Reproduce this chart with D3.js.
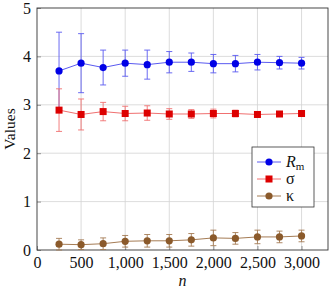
<!DOCTYPE html>
<html>
<head>
<meta charset="utf-8">
<script src="https://cdn.jsdelivr.net/npm/d3@7"></script>
<style>
  body { margin: 0; background: #fff; }
  svg text { font-family: "Liberation Serif", "Times New Roman", serif; fill: #111; }
</style>
</head>
<body>
<svg id="chart" width="330" height="292"></svg>
<script>
// Data
const nValues = [250, 500, 750, 1000, 1250, 1500, 1750, 2000, 2250, 2500, 2750, 3000];
const rmMean  = [3.70, 3.86, 3.77, 3.86, 3.83, 3.88, 3.88, 3.85, 3.85, 3.88, 3.87, 3.86];
const rmErr   = [0.80, 0.61, 0.36, 0.27, 0.30, 0.22, 0.19, 0.19, 0.17, 0.16, 0.13, 0.12];
const sigMean = [2.89, 2.80, 2.86, 2.82, 2.83, 2.81, 2.81, 2.82, 2.82, 2.80, 2.81, 2.82];
const sigErr  = [0.44, 0.32, 0.19, 0.15, 0.15, 0.11, 0.09, 0.09, 0.07, 0.05, 0.04, 0.04];
const kapMean = [0.12, 0.11, 0.13, 0.18, 0.19, 0.19, 0.21, 0.25, 0.24, 0.27, 0.27, 0.29];
const kapErr  = [0.12, 0.10, 0.12, 0.12, 0.13, 0.13, 0.13, 0.16, 0.12, 0.14, 0.12, 0.12];
const xTicks  = [0, 500, 1000, 1500, 2000, 2500, 3000];
const yTicks  = [0, 1, 2, 3, 4, 5];

const series = [
  {name: 'R', sub: 'm', mean: rmMean, err: rmErr, mark: '#0000e6', line: '#5a5af0', shape: 'circle'},
  {name: 'σ', sub: '', mean: sigMean, err: sigErr, mark: '#dd0000', line: '#f07070', shape: 'square'},
  {name: 'κ', sub: '', mean: kapMean, err: kapErr, mark: '#8b5a2b', line: '#a57c55', shape: 'circle'}
];

const svg = d3.select('#chart');
const margin = {left: 37, right: 2, top: 8, bottom: 42};
const W = 330, H = 292;
const serif = '"Liberation Serif", "Times New Roman", serif';

const x = d3.scaleLinear().domain([0, 3300]).range([margin.left, W - margin.right]);
const y = d3.scaleLinear().domain([0, 5]).range([H - margin.bottom, margin.top]);

// grid
const grid = svg.append('g').attr('stroke', '#d3d3d3').attr('stroke-width', 0.8);
grid.selectAll('.gx').data(xTicks.slice(1)).enter().append('line')
    .attr('x1', d => x(d)).attr('x2', d => x(d))
    .attr('y1', y(0)).attr('y2', y(5));
grid.selectAll('.gy').data(yTicks.slice(1, -1)).enter().append('line')
    .attr('x1', x(0)).attr('x2', x(3300))
    .attr('y1', d => y(d)).attr('y2', d => y(d));

// axes
const xAxis = svg.append('g').attr('transform', `translate(0, ${y(0)})`)
    .call(d3.axisBottom(x).tickValues(xTicks).tickFormat(d3.format(','))
        .tickSizeInner(-4).tickSizeOuter(0).tickPadding(7));
const yAxis = svg.append('g').attr('transform', `translate(${x(0)}, 0)`)
    .call(d3.axisLeft(y).tickValues(yTicks).tickFormat(d3.format('d'))
        .tickSizeInner(-4).tickSizeOuter(0).tickPadding(6));
for (let ax of [xAxis, yAxis]) {
    ax.attr('font-family', serif).attr('font-size', 16);
    ax.select('.domain').remove();
    ax.selectAll('.tick line').attr('stroke', '#555').attr('stroke-width', 0.6);
    ax.selectAll('.tick text').attr('fill', '#111')
        .style('font-family', serif).style('font-size', '16px');
}

// frame
svg.append('rect')
    .attr('x', x(0)).attr('y', y(5))
    .attr('width', x(3300) - x(0)).attr('height', y(0) - y(5))
    .attr('fill', 'none').attr('stroke', '#333').attr('stroke-width', 0.9);

// labels
svg.append('text')
    .attr('transform', `translate(15, ${(y(0) + y(5)) / 2}) rotate(-90)`)
    .attr('text-anchor', 'middle').style('font-size', '15.5px').text('Values');
svg.append('text')
    .attr('x', (x(0) + x(3300)) / 2).attr('y', 286)
    .attr('text-anchor', 'middle').style('font-size', '16px').style('font-style', 'italic').text('n');

function drawMark(g, shape, color, cx, cy) {
    if (shape === 'circle') {
        g.append('circle').attr('cx', cx).attr('cy', cy).attr('r', 3.6).attr('fill', color);
    } else {
        g.append('rect').attr('x', cx - 3.5).attr('y', cy - 3.5)
            .attr('width', 7).attr('height', 7).attr('fill', color);
    }
}

const line = d3.line().x(d => x(d.n)).y(d => y(d.v));

for (let s of series) {
    const pts = nValues.map((n, i) => ({n: n, v: s.mean[i], e: s.err[i]}));
    const g = svg.append('g');
    // error bars
    const eb = g.append('g').attr('stroke', s.line).attr('stroke-width', 0.9);
    pts.forEach(p => {
        const lo = Math.max(0, p.v - p.e), hi = p.v + p.e;
        eb.append('line').attr('x1', x(p.n)).attr('x2', x(p.n)).attr('y1', y(lo)).attr('y2', y(hi));
        eb.append('line').attr('x1', x(p.n) - 3).attr('x2', x(p.n) + 3).attr('y1', y(hi)).attr('y2', y(hi));
        eb.append('line').attr('x1', x(p.n) - 3).attr('x2', x(p.n) + 3).attr('y1', y(lo)).attr('y2', y(lo));
    });
    g.append('path').datum(pts).attr('d', line)
        .attr('fill', 'none').attr('stroke', s.line).attr('stroke-width', 1);
    pts.forEach(p => drawMark(g, s.shape, s.mark, x(p.n), y(p.v)));
}

// legend
const leg = svg.append('g').attr('transform', 'translate(252, 147)');
leg.append('rect').attr('width', 62).attr('height', 60)
    .attr('fill', '#fff').attr('stroke', '#333').attr('stroke-width', 0.8);
series.forEach((s, i) => {
    const yy = 15 + i * 17;
    leg.append('line').attr('x1', 5).attr('x2', 29).attr('y1', yy).attr('y2', yy)
        .attr('stroke', s.line).attr('stroke-width', 1);
    drawMark(leg, s.shape, s.mark, 17, yy);
    const t = leg.append('text').attr('x', 34).attr('y', yy + 5).style('font-size', '16px');
    if (s.sub) {
        t.append('tspan').style('font-style', 'italic').text(s.name);
        t.append('tspan').attr('dy', 3).style('font-size', '11px').text(s.sub);
    } else {
        t.text(s.name);
    }
});
</script>
</body>
</html>
